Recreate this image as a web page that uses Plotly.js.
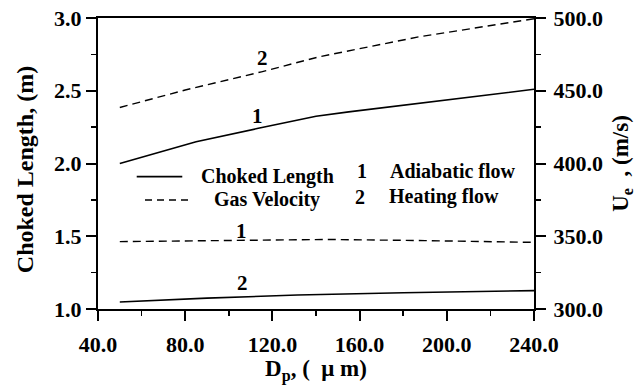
<!DOCTYPE html>
<html>
<head>
<meta charset="utf-8">
<script src="https://cdn.plot.ly/plotly-3.0.1.min.js"></script>
<style>html,body{margin:0;padding:0;background:#fff;}#chart{width:643px;height:385px;}</style>
</head>
<body>
<div id="chart"></div>
<script>
// Choked length (left axis), solid lines
const dpChokedAdiabatic = [50, 85, 113, 140, 155, 187, 240];
const chokedAdiabatic   = [2.00, 2.15, 2.24, 2.325, 2.355, 2.415, 2.51];
const dpChokedHeating   = [50, 90, 131.5, 180, 240];
const chokedHeating     = [1.048, 1.075, 1.096, 1.112, 1.126];
// Gas velocity (right axis), dashed lines
const dpVelAdiabatic = [50, 100, 145, 190, 240];
const velAdiabatic   = [346.3, 347.3, 347.8, 347.0, 345.8];
const dpVelHeating   = [50, 80, 115, 141.6, 187, 240];
const velHeating     = [438.5, 450.5, 463, 473.4, 487, 499.5];

const xTicks  = [40, 80, 120, 160, 200, 240];
const yTicks  = [1.0, 1.5, 2.0, 2.5, 3.0];
const y2Ticks = [300, 350, 400, 450, 500];

const FONT = 'Liberation Serif';
const solid = {color: '#000', width: 1.6};
const dashed = {color: '#000', width: 1.4, dash: '8px,5px'};

const traces = [
  {x: dpChokedAdiabatic, y: chokedAdiabatic, mode: 'lines', line: solid, yaxis: 'y', showlegend: false},
  {x: dpChokedHeating, y: chokedHeating, mode: 'lines', line: solid, yaxis: 'y', showlegend: false},
  {x: dpVelAdiabatic, y: velAdiabatic, mode: 'lines', line: dashed, yaxis: 'y2', showlegend: false},
  {x: dpVelHeating, y: velHeating, mode: 'lines', line: dashed, yaxis: 'y2', showlegend: false}
];

function f(size) { return {family: FONT, size: size, color: '#000', weight: 'bold'}; }

const axisCommon = {
  showline: true, linewidth: 2, linecolor: '#000',
  ticks: 'outside', ticklen: 10, tickwidth: 2, tickcolor: '#000',
  showgrid: false, zeroline: false,
  tickformat: '.1f',
  tickfont: f(22)
};

const layout = {
  width: 643, height: 385,
  margin: {l: 98, r: 109, t: 18, b: 76},
  paper_bgcolor: '#fff', plot_bgcolor: '#fff',
  font: f(20),
  showlegend: false,
  xaxis: Object.assign({}, axisCommon, {
    range: [40, 240], tickmode: 'array', tickvals: xTicks, mirror: true,
    ticklabelstandoff: 5,
    minor: {dtick: 20, tick0: 40, ticks: 'outside', ticklen: 5, tickwidth: 1.5, tickcolor: '#000'},
    title: {text: 'D<sub>p</sub>, (  μ m)', font: f(23), standoff: 4},
    automargin: false
  }),
  yaxis: Object.assign({}, axisCommon, {
    range: [1, 3], tickmode: 'array', tickvals: yTicks,
    minor: {dtick: 0.25, tick0: 1, ticks: 'outside', ticklen: 5, tickwidth: 1.5, tickcolor: '#000'},
    title: {text: 'Choked Length, (m)&nbsp;&nbsp;', font: f(24), standoff: 14},
    automargin: false
  }),
  yaxis2: Object.assign({}, axisCommon, {
    range: [300, 500], tickmode: 'array', tickvals: y2Ticks,
    overlaying: 'y', side: 'right', ticklabelstandoff: 3,
    minor: {dtick: 25, tick0: 300, ticks: 'outside', ticklen: 5, tickwidth: 1.5, tickcolor: '#000'},
    title: {text: 'U<sub>e</sub>  , (m/s)', font: f(23), standoff: 10},
    automargin: false
  }),
  shapes: [
    {type: 'line', xref: 'paper', yref: 'paper', x0: 0.0888, x1: 0.1933, y0: 0.4546, y1: 0.4546, line: {color: '#000', width: 1.8}},
    {type: 'line', xref: 'paper', yref: 'paper', x0: 0.1078, x1: 0.211, y0: 0.3746, y1: 0.3746, line: {color: '#000', width: 1.4, dash: '7px,5px'}}
  ],
  annotations: [
    {text: 'Choked Length', xref: 'paper', yref: 'paper', x: 0.2317, y: 0.457, xanchor: 'left', yanchor: 'middle', showarrow: false, font: f(20)},
    {text: 'Gas Velocity', xref: 'paper', yref: 'paper', x: 0.2608, y: 0.378, xanchor: 'left', yanchor: 'middle', showarrow: false, font: f(20)},
    {text: '1', xref: 'paper', yref: 'paper', x: 0.6048, y: 0.474, xanchor: 'center', yanchor: 'middle', showarrow: false, font: f(20)},
    {text: 'Adiabatic flow', xref: 'paper', yref: 'paper', x: 0.665, y: 0.474, xanchor: 'left', yanchor: 'middle', showarrow: false, font: f(20)},
    {text: '2', xref: 'paper', yref: 'paper', x: 0.601, y: 0.385, xanchor: 'center', yanchor: 'middle', showarrow: false, font: f(20)},
    {text: 'Heating flow', xref: 'paper', yref: 'paper', x: 0.662, y: 0.385, xanchor: 'left', yanchor: 'middle', showarrow: false, font: f(20)},
    // curve labels
    {text: '2', xref: 'x', yref: 'y2', x: 115.5, y: 472.5, showarrow: false, font: f(21)},
    {text: '1', xref: 'x', yref: 'y', x: 113.2, y: 2.326, showarrow: false, font: f(21)},
    {text: '1', xref: 'x', yref: 'y2', x: 105.7, y: 353.6, showarrow: false, font: f(21)},
    {text: '2', xref: 'x', yref: 'y', x: 106.3, y: 1.179, showarrow: false, font: f(21)}
  ]
};

Plotly.newPlot('chart', traces, layout, {displayModeBar: false, staticPlot: true});
</script>
</body>
</html>
